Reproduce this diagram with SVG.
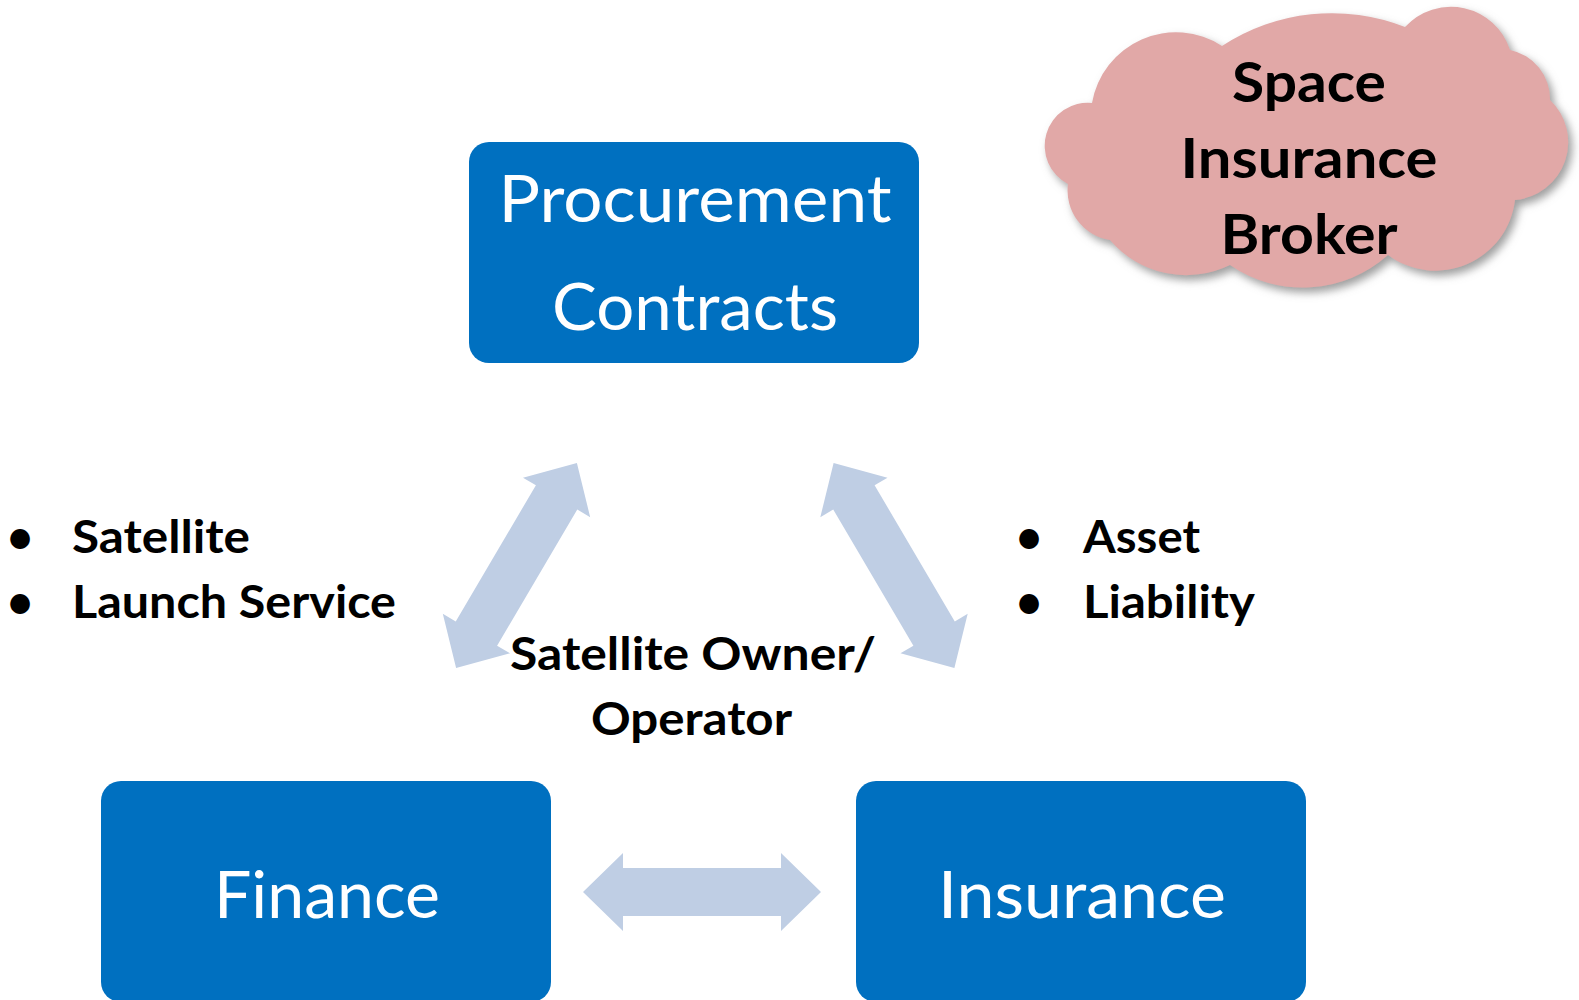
<svg xmlns="http://www.w3.org/2000/svg" width="1579" height="1000" viewBox="0 0 1579 1000">
  <style>
    .box { fill: #0070C0; }
    .boxtext { font-family: Lato, "Open Sans", sans-serif; font-size: 65px; fill: #FFFFFF; text-anchor: middle; }
    .label { font-family: Lato, "Open Sans", sans-serif; font-weight: bold; font-size: 45px; fill: #000000; }
    .mid { text-anchor: middle; }
    .cloudtext { font-family: Lato, "Open Sans", sans-serif; font-weight: bold; font-size: 56px; fill: #000000; text-anchor: middle; }
    .link { fill: #BFCEE4; }
    .cloud { fill: #E1A8A7; }
  </style>
  <defs>
    <!-- double-headed block arrow, centred on the origin along the x axis -->
    <path id="dbl-arrow" d="M -119 0 L -79 -39 L -79 -24 L 79 -24 L 79 -39 L 119 0 L 79 39 L 79 24 L -79 24 L -79 39 Z"/>
    <filter id="soft-shadow" x="-10%" y="-10%" width="125%" height="130%">
      <feDropShadow dx="4" dy="5" stdDeviation="4" flood-color="#7F7F7F" flood-opacity="0.75"/>
    </filter>
  </defs>

  <rect width="1579" height="1000" fill="#FFFFFF"/>

  <!-- connectors between the three activity boxes -->
  <g id="connectors">
    <use href="#dbl-arrow" class="link" transform="translate(516.5 565.5) rotate(-59.5)"/>
    <use href="#dbl-arrow" class="link" transform="translate(894 565.5) rotate(59.5)"/>
    <use href="#dbl-arrow" class="link" transform="translate(702 892)"/>
  </g>

  <g id="procurement">
    <rect class="box" x="469" y="142" width="450" height="221" rx="20"/>
    <text class="boxtext" x="695" y="222" textLength="393" lengthAdjust="spacingAndGlyphs">Procurement</text>
    <text class="boxtext" x="695" y="330" textLength="286" lengthAdjust="spacingAndGlyphs">Contracts</text>
  </g>

  <g id="finance">
    <rect class="box" x="101" y="781" width="450" height="221" rx="20"/>
    <text class="boxtext" x="327" y="918" textLength="226" lengthAdjust="spacingAndGlyphs">Finance</text>
  </g>

  <g id="insurance">
    <rect class="box" x="856" y="781" width="450" height="221" rx="20"/>
    <text class="boxtext" x="1082" y="918" textLength="288" lengthAdjust="spacingAndGlyphs">Insurance</text>
  </g>

  <g id="owner-operator">
    <text class="label mid" x="693" y="670" textLength="366" lengthAdjust="spacingAndGlyphs">Satellite Owner/</text>
    <text class="label mid" x="691.5" y="735" textLength="201" lengthAdjust="spacingAndGlyphs">Operator</text>
  </g>

  <g id="procurement-items">
    <text class="label mid" x="20" y="553">•</text>
    <text class="label" x="72" y="553" textLength="178" lengthAdjust="spacingAndGlyphs">Satellite</text>
    <text class="label mid" x="20" y="618">•</text>
    <text class="label" x="72" y="618" textLength="324" lengthAdjust="spacingAndGlyphs">Launch Service</text>
  </g>

  <g id="insurance-items">
    <text class="label mid" x="1029" y="553">•</text>
    <text class="label" x="1083" y="553" textLength="117" lengthAdjust="spacingAndGlyphs">Asset</text>
    <text class="label mid" x="1029" y="618">•</text>
    <text class="label" x="1083" y="618" textLength="172" lengthAdjust="spacingAndGlyphs">Liability</text>
  </g>

  <g id="broker">
    <path class="cloud" filter="url(#soft-shadow)" d="M 1092 103 A 85 85 0 0 1 1222 46 A 200 200 0 0 1 1405 27 A 62 62 0 0 1 1510 50 A 50 50 0 0 1 1550 100 A 58 58 0 0 1 1515 200 A 80 80 0 0 1 1388 255 A 128 128 0 0 1 1230 265 A 100 100 0 0 1 1110 240 A 50 50 0 0 1 1068 184 A 43 43 0 0 1 1092 103 Z"/>
    <text class="cloudtext" x="1309" y="102" textLength="154" lengthAdjust="spacingAndGlyphs">Space</text>
    <text class="cloudtext" x="1309" y="178" textLength="257" lengthAdjust="spacingAndGlyphs">Insurance</text>
    <text class="cloudtext" x="1309" y="254" textLength="177" lengthAdjust="spacingAndGlyphs">Broker</text>
  </g>
</svg>
